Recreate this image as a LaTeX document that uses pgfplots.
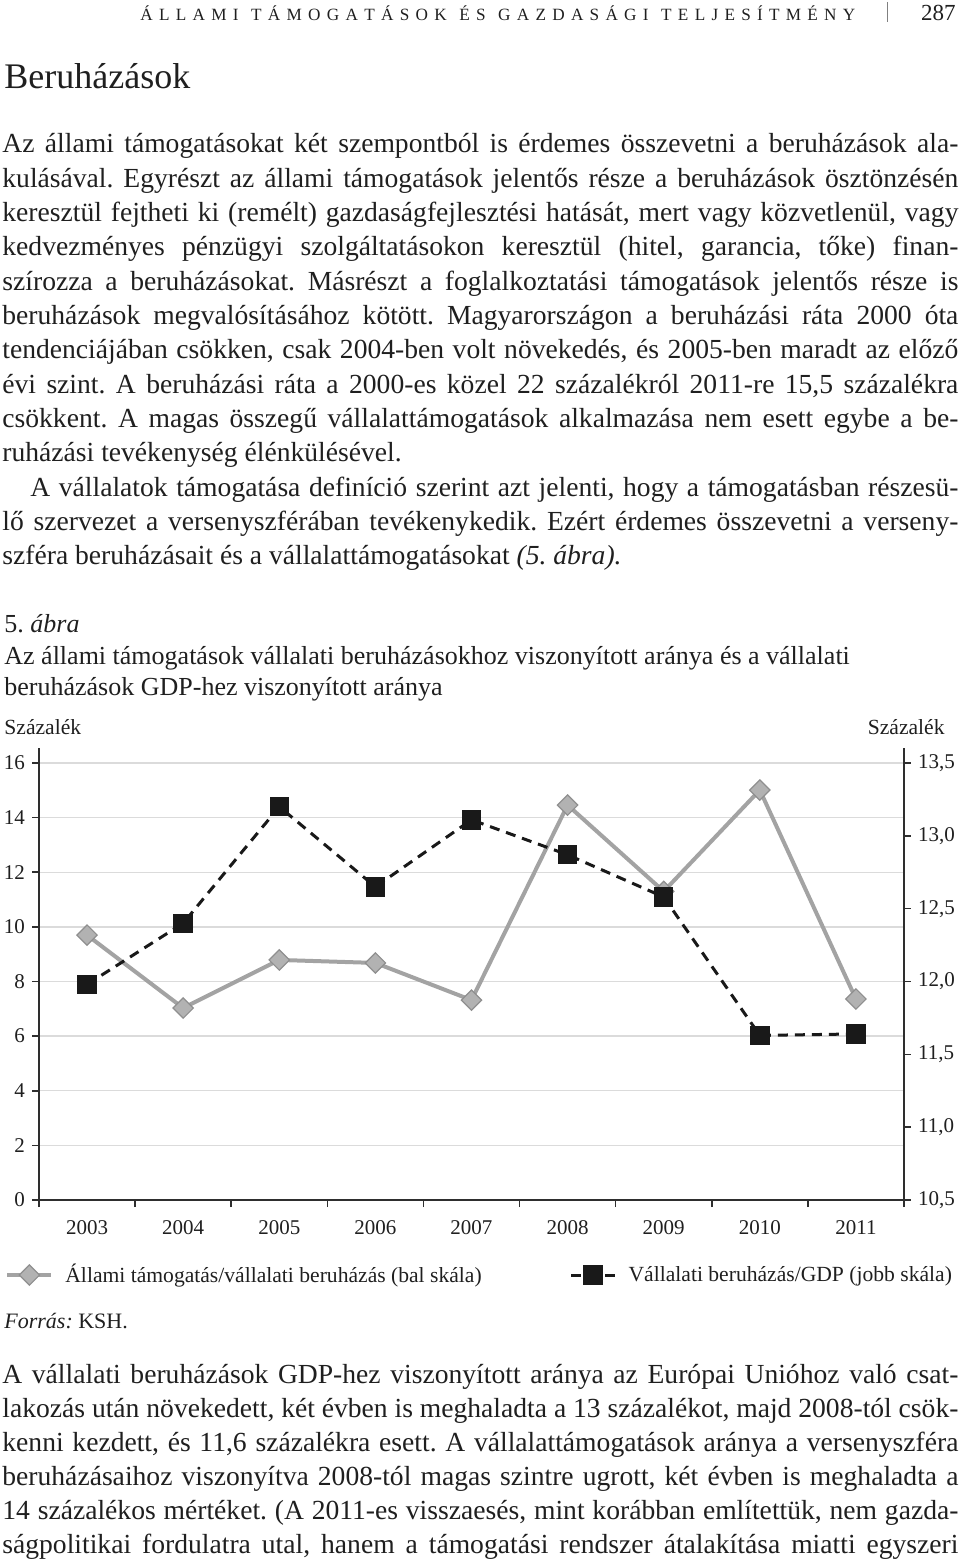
\documentclass[border=0pt]{standalone}
\usepackage{fontspec}
\setmainfont{Liberation Serif}
\usepackage{pgfplots}
\pgfplotsset{compat=1.18}
\definecolor{txt}{gray}{0.12}
\definecolor{gline}{gray}{0.64}
\definecolor{gfill}{gray}{0.70}
\definecolor{gedge}{gray}{0.56}
\definecolor{gridc}{gray}{0.86}
\definecolor{axc}{gray}{0.18}
\definecolor{sqc}{gray}{0.10}
\pgfplotsset{myleg/.style={legend image code/.code={\draw[mark repeat=2,mark phase=2,##1] plot coordinates {(0pt,0pt) (11pt,0pt) (22pt,0pt)};}}}
% justified line: x (px), baseline y (px), text
\newcommand\jl[3]{\node[anchor=base west,inner sep=0pt] at (#1,#2) {\makebox[\dimexpr(958pt-#1pt)/2\relax][s]{#3}};}
\newcommand\nl[3]{\node[anchor=base west,inner sep=0pt] at (#1,#2) {#3};}
\pgfplotstableread{
x left right
1 9.70 11.98
2 7.03 12.40
3 8.79 13.20
4 8.68 12.65
5 7.32 13.11
6 14.46 12.87
7 11.30 12.58
8 15.01 11.63
9 7.36 11.64
}\datatab
\frenchspacing
\begin{document}
\frenchspacing
\begin{tikzpicture}
\path[use as bounding box] (0pt,0pt) rectangle (480pt,-783pt);
\begin{scope}[x=0.5pt,y=-0.5pt,text=txt]
% header
\node[anchor=base west,inner sep=0pt] at (140,21) {\fontsize{8.6}{10}\selectfont\makebox[357.5pt][s]{Á L L A M I\ \ T Á M O G A T Á S O K\ \ É S\ \ G A Z D A S Á G I\ \ T E L J E S Í T M É N Y}};
\draw[gray, line width=0.5pt] (887,2) -- (887,22);
\node[anchor=base east,inner sep=0pt] at (956,21) {\fontsize{11.5}{12}\selectfont 287};
\node[anchor=base west,inner sep=0pt] at (4,89) {\fontsize{18}{20}\selectfont Beruházások};
% body paragraph
\fontsize{13.8}{16}\selectfont
\jl{2}{153.0}{Az állami támogatásokat két szempontból is érdemes összevetni a beruházások ala-}
\jl{2}{187.3}{kulásával. Egyrészt az állami támogatások jelentős része a beruházások ösztönzésén}
\jl{2}{221.6}{keresztül fejtheti ki (remélt) gazdaságfejlesztési hatását, mert vagy közvetlenül, vagy}
\jl{2}{255.9}{kedvezményes pénzügyi szolgáltatásokon keresztül (hitel, garancia, tőke) finan-}
\jl{2}{290.2}{szírozza a beruházásokat. Másrészt a foglalkoztatási támogatások jelentős része is}
\jl{2}{324.5}{beruházások megvalósításához kötött. Magyarországon a beruházási ráta 2000 óta}
\jl{2}{358.8}{tendenciájában csökken, csak 2004-ben volt növekedés, és 2005-ben maradt az előző}
\jl{2}{393.1}{évi szint. A beruházási ráta a 2000-es közel 22 százalékról 2011-re 15,5 százalékra}
\jl{2}{427.4}{csökkent. A magas összegű vállalattámogatások alkalmazása nem esett egybe a be-}
\nl{2}{461.7}{\fontsize{13.8}{16}\selectfont ruházási tevékenység élénkülésével.}
\jl{30}{496.0}{A vállalatok támogatása definíció szerint azt jelenti, hogy a támogatásban részesü-}
\jl{2}{530.3}{lő szervezet a versenyszférában tevékenykedik. Ezért érdemes összevetni a verseny-}
\nl{2}{564.6}{\fontsize{13.8}{16}\selectfont szféra beruházásait és a vállalattámogatásokat \textit{(5. ábra).}}
% caption
\nl{4}{632}{\fontsize{13}{15}\selectfont 5. \textit{ábra}}
\nl{4}{664}{\fontsize{13}{15}\selectfont Az állami támogatások vállalati beruházásokhoz viszonyított aránya és a vállalati}
\nl{4}{695}{\fontsize{13}{15}\selectfont beruházások GDP-hez viszonyított aránya}
\nl{4}{734}{\fontsize{10.8}{12}\selectfont Százalék}
\node[anchor=base east,inner sep=0pt] at (945,734) {\fontsize{10.8}{12}\selectfont Százalék};
\nl{4}{1328}{\fontsize{11}{13}\selectfont \textit{Forrás:} KSH.}
% bottom paragraph
\jl{2}{1383}{A vállalati beruházások GDP-hez viszonyított aránya az Európai Unióhoz való csat-}
\jl{2}{1417}{lakozás után növekedett, két évben is meghaladta a 13 százalékot, majd 2008-tól csök-}
\jl{2}{1451}{kenni kezdett, és 11,6 százalékra esett. A vállalattámogatások aránya a versenyszféra}
\jl{2}{1485}{beruházásaihoz viszonyítva 2008-tól magas szintre ugrott, két évben is meghaladta a}
\jl{2}{1519}{14 százalékos mértéket. (A 2011-es visszaesés, mint korábban említettük, nem gazda-}
\jl{2}{1553}{ságpolitikai fordulatra utal, hanem a támogatási rendszer átalakítása miatti egyszeri}
\end{scope}
% left axis
\begin{axis}[
  at={(19.5pt,-600pt)}, anchor=south west,
  width=432.5pt, height=226pt, scale only axis,
  xmin=0.5, xmax=9.5, ymin=0, ymax=16.55,
  axis x line*=bottom, axis y line*=left,
  axis line style={axc, line width=0.8pt},
  tick style={axc, line width=0.8pt},
  tick align=outside, major tick length=3.5pt,
  xtick={0.5,1.5,...,9.5}, xticklabels={},
  extra x ticks={1,2,...,9},
  extra x tick labels={2003,2004,2005,2006,2007,2008,2009,2010,2011},
  extra x tick style={major tick length=0pt, xticklabel style={anchor=north, yshift=-6.5pt}},
  ytick={0,2,...,16}, yticklabels={0,2,4,6,8,10,12,14,16},
  ymajorgrids, major grid style={gridc, line width=0.7pt},
  tick label style={font=\fontsize{10.5}{12}\selectfont, text=txt},
  clip=false,
]
\addplot[gline, line width=2pt, mark=square*, mark size=3.6pt,
  mark options={rotate=45, fill=gfill, draw=gedge, line width=0.6pt}]
  table[x=x, y=left] {\datatab};
\end{axis}
% right axis
\begin{axis}[
  at={(19.5pt,-600pt)}, anchor=south west,
  width=432.5pt, height=226pt, scale only axis,
  xmin=0.5, xmax=9.5, ymin=10.5, ymax=13.603,
  axis x line=none, axis y line*=right,
  axis line style={axc, line width=0.8pt},
  tick style={axc, line width=0.8pt},
  tick align=outside, major tick length=3.5pt,
  ytick={10.5,11,11.5,12,12.5,13,13.5},
  yticklabels={{10,5},{11,0},{11,5},{12,0},{12,5},{13,0},{13,5}},
  tick label style={font=\fontsize{10.5}{12}\selectfont, text=txt},
  clip=false,
  legend columns=2,
  legend cell align=left,
  legend style={at={(axis description cs:-0.0393,-0.166)}, anchor=west,
    draw=none, fill=none, inner sep=0pt,
    font=\fontsize{10.8}{12}\selectfont, text=txt,
    /tikz/every odd column/.append style={column sep=4pt},
    /tikz/every even column/.append style={column sep=42pt}},
]
\addlegendimage{myleg, gline, line width=2pt, mark=square*, mark size=3.6pt,
  mark options={rotate=45, fill=gfill, draw=gedge, line width=0.6pt}}
\addlegendentry{Állami támogatás/vállalati beruházás (bal skála)}
\addplot[sqc, line width=1.5pt, dash pattern=on 5pt off 3.5pt, mark=square*, mark size=4.1pt,
  mark options={solid, fill=sqc, draw=sqc}, myleg]
  table[x=x, y=right] {\datatab};
\addlegendentry{Vállalati beruházás/GDP (jobb skála)}
\end{axis}
\end{tikzpicture}
\end{document}
